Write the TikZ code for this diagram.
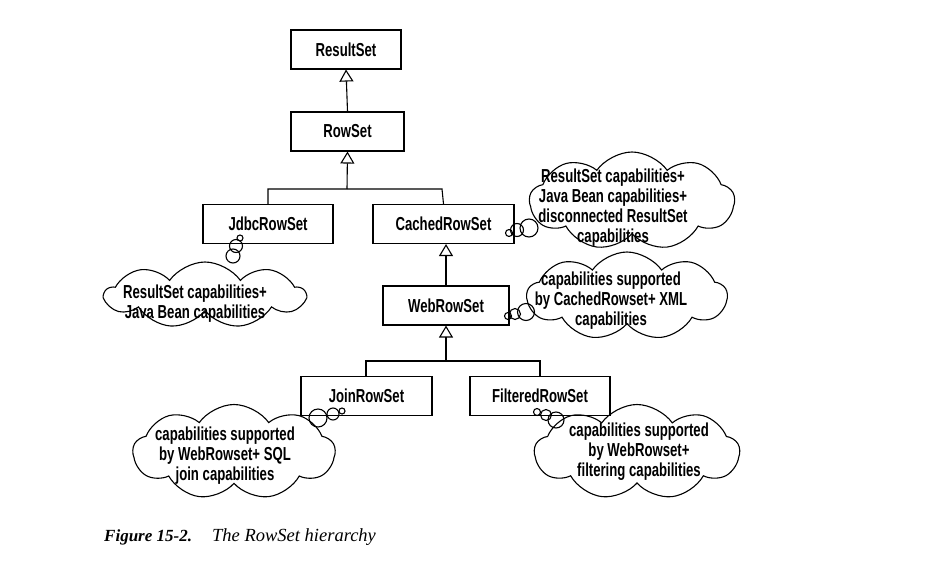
\documentclass[tikz,border=0pt]{standalone}
\usepackage{fontspec}
\setmainfont{Liberation Serif}
\newfontfamily\narrowsans[FakeStretch=0.7]{Liberation Sans Bold}
\usetikzlibrary{arrows.meta,shapes.symbols}
\tikzset{
  classbox/.style={draw, line width=1.1pt, minimum width=#1, minimum height=39pt, inner sep=0pt, font=\narrowsans\fontsize{18.8}{20}\selectfont},
  classbox/.default=130pt,
  inherit/.style={line width=1.1pt, -{Triangle[open, length=12pt, width=14pt, line width=1.1pt]}},
  link/.style={line width=1.1pt},
  thought/.style={cloud, cloud puffs=9, cloud puff arc=110, cloud ignores aspect, draw, line width=1.1pt, inner sep=0pt, minimum width=#1},
  note/.style={align=center, inner sep=0pt, font=\narrowsans\fontsize{18.8}{20}\selectfont},
  bubble/.style={circle, draw, line width=1.1pt, inner sep=0pt, minimum size=#1}
}
\begin{document}
\begin{tikzpicture}[x=1pt,y=-1pt]
\useasboundingbox (0,0) rectangle (933,562);

% classes
\node[classbox=110pt] (resultset) at (346,49.5) {ResultSet};
\node[classbox=113pt] (rowset) at (347.5,131.5) {RowSet};
\node[classbox=130pt] (jdbc) at (268,224) {JdbcRowSet};
\node[classbox=141pt] (cached) at (443.5,224) {CachedRowSet};
\node[classbox=126pt] (web) at (446,305.5) {WebRowSet};
\node[classbox=131pt] (join) at (366.5,396) {JoinRowSet};
\node[classbox=140pt] (filtered) at (540,396) {FilteredRowSet};

% inheritance
\draw[inherit] (rowset.north) -- (resultset.south);
\coordinate (j1) at (347,189);
\coordinate (j1l) at (268,189);
\coordinate (j1r) at (442,189);
\draw[inherit] (j1) -- (rowset.south);
\draw[link] (jdbc.north) -- (j1l) -- (j1r) -- (cached.north);
\draw[inherit] (web.north -| 446,0) -- (cached.south -| 446,0);
\coordinate (j2) at (446,361);
\coordinate (j2l) at (366,361);
\coordinate (j2r) at (540,361);
\draw[inherit] (j2) -- (web.south);
\draw[link] (join.north -| j2l) -- (j2l) -- (j2r) -- (filtered.north -| j2r);

% clouds
\node[thought=200pt, minimum height=66pt] (c1) at (205,295) {};
\node[note] (t1) at (195,304) {ResultSet capabilities+\\Java Bean capabilities};
\node[bubble=6pt] (b11) at (240,238) {};
\node[bubble=13pt] (b12) at (236,246) {};
\node[bubble=14pt] (b13) at (233,256) {};

\node[thought=205pt, minimum height=98pt] (c2) at (632,201) {};
\node[note] (t2) at (613,207.5) {ResultSet capabilities+\\Java Bean capabilities+\\disconnected ResultSet\\capabilities};
\node[bubble=7pt] (b21) at (509,233) {};
\node[bubble=13pt] (b22) at (517,230) {};
\node[bubble=18pt] (b23) at (529,228) {};

\node[thought=200pt, minimum height=88pt] (c3) at (627,296) {};
\node[note] (t3) at (611,300.5) {capabilities supported\\by CachedRowset+ XML\\capabilities};
\node[bubble=7pt] (b31) at (508,316) {};
\node[bubble=11pt] (b32) at (515,314) {};
\node[bubble=17pt] (b33) at (526,312) {};

\node[thought=202pt, minimum height=95pt] (c4) at (234,452) {};
\node[note] (t4) at (225,456) {capabilities supported\\by WebRowset+ SQL\\join capabilities};
\node[bubble=6pt] (b41) at (342,411) {};
\node[bubble=12pt] (b42) at (333,414) {};
\node[bubble=18pt] (b43) at (318,418) {};

\node[thought=205pt, minimum height=95pt] (c5) at (637,452) {};
\node[note] (t5) at (639,452) {capabilities supported\\by WebRowset+\\filtering capabilities};
\node[bubble=7pt] (b51) at (537,412) {};
\node[bubble=11pt] (b52) at (546,415) {};
\node[bubble=16pt] (b53) at (556,420) {};

% caption
\node[anchor=base west, inner sep=0pt, font=\fontsize{17}{19}\selectfont] (cap1) at (104,541) {\textbf{\textit{Figure 15-2.}}};
\node[anchor=base west, inner sep=0pt, font=\fontsize{18.5}{19}\selectfont] (cap2) at (212,541) {\textit{The RowSet hierarchy}};
\end{tikzpicture}
\end{document}
